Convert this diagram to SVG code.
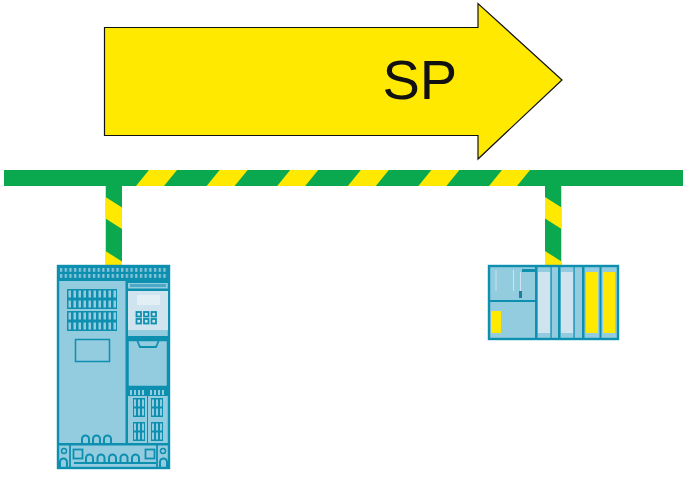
<svg xmlns="http://www.w3.org/2000/svg" xmlns:xlink="http://www.w3.org/1999/xlink" width="692" height="477" viewBox="0 0 692 477">
<style>
.g{fill:#0aa84f}.y{fill:#ffe900}
.b{fill:#93cbdf}.d{fill:#0f8fb0}.o{fill:none;stroke:#0f8fb0}
.p{fill:#cfe4ee}
</style>
<defs>
<filter id="soft" x="-2%" y="-2%" width="104%" height="104%"><feGaussianBlur stdDeviation="0.35"/></filter>
<clipPath id="stemClip"><rect x="0" y="186" width="16.5" height="79"/></clipPath>
<g id="stem" clip-path="url(#stemClip)">
<rect class="g" x="0" y="186" width="16.5" height="79"/>
<polygon class="y" points="0,197 16.5,207.5 16.5,229 0,218.5"/>
<polygon class="y" points="0,251 16.5,261.5 16.5,283 0,272.5"/>
</g>
<g id="vent"><rect class="d" width="50" height="20" x="0" y="0"/>
<g class="b"><rect x="1.5" y="1.5" width="2.5" height="7"/><rect x="1.5" y="11.5" width="2.5" height="7"/><rect x="6.5" y="1.5" width="2.5" height="7"/><rect x="6.5" y="11.5" width="2.5" height="7"/><rect x="11.5" y="1.5" width="2.5" height="7"/><rect x="11.5" y="11.5" width="2.5" height="7"/><rect x="16.5" y="1.5" width="2.5" height="7"/><rect x="16.5" y="11.5" width="2.5" height="7"/><rect x="21.5" y="1.5" width="2.5" height="7"/><rect x="21.5" y="11.5" width="2.5" height="7"/><rect x="26.5" y="1.5" width="2.5" height="7"/><rect x="26.5" y="11.5" width="2.5" height="7"/><rect x="31.5" y="1.5" width="2.5" height="7"/><rect x="31.5" y="11.5" width="2.5" height="7"/><rect x="36.5" y="1.5" width="2.5" height="7"/><rect x="36.5" y="11.5" width="2.5" height="7"/><rect x="41.5" y="1.5" width="2.5" height="7"/><rect x="41.5" y="11.5" width="2.5" height="7"/><rect x="46.5" y="1.5" width="2.5" height="7"/><rect x="46.5" y="11.5" width="2.5" height="7"/></g></g>
<g id="vent2"><rect class="d" width="12" height="19"/><g class="b"><rect x="1" y="1.5" width="2" height="7"/><rect x="5" y="1.5" width="2" height="7"/><rect x="9" y="1.5" width="2" height="7"/><rect x="1" y="10.5" width="2" height="7"/><rect x="5" y="10.5" width="2" height="7"/><rect x="9" y="10.5" width="2" height="7"/></g></g>
<path id="bump" d="M0,8 V4 A3.5,3.5 0 0 1 7,4 V8" fill="none" stroke="#0f8fb0" stroke-width="2"/>
<rect id="btn" class="o" width="4.5" height="4.5" stroke-width="1.8"/>
<pattern id="term" width="4.7" height="6" patternUnits="userSpaceOnUse" x="59" y="267"><rect width="4.7" height="6" fill="#0f8fb0"/><rect x="1" y="1" width="2.2" height="3.8" fill="#8cc6db"/></pattern>
</defs>

<g id="connectors">
<g id="bus">
<rect class="g" x="4" y="170" width="679" height="16"/>
<polygon class="y" points="136,186 164,186 177,170 149,170"/>
<polygon class="y" points="206.6,186 234.6,186 247.6,170 219.6,170"/>
<polygon class="y" points="277.2,186 305.2,186 318.2,170 290.2,170"/>
<polygon class="y" points="347.8,186 375.8,186 388.8,170 360.8,170"/>
<polygon class="y" points="418.4,186 446.4,186 459.4,170 431.4,170"/>
<polygon class="y" points="489,186 517,186 530,170 502,170"/>
</g>
<use xlink:href="#stem" href="#stem" x="105.5"/>
<use xlink:href="#stem" href="#stem" x="545"/>
</g>

<g id="arrow">
<polygon points="104.5,27.5 478,27.5 478,3.5 562,80 478,159 478,135.5 104.5,135.5" fill="#ffe900" stroke="#111" stroke-width="1.2"/>
<text x="382.500" y="99" font-family="'Liberation Sans',Arial,sans-serif" font-size="56" fill="#111">SP</text>
</g>

<g id="drive" filter="url(#soft)">
<rect class="b" x="57" y="265" width="113" height="204"/>
<rect x="58" y="266" width="111" height="202" class="o" stroke-width="2.400"/>
<rect class="d" x="58" y="266" width="111" height="15"/>
<rect x="59" y="267" width="108" height="12" fill="url(#term)"/>
<rect class="d" x="125.500" y="281" width="2.500" height="162"/>
<use xlink:href="#vent" href="#vent" x="67" y="289"/>
<use xlink:href="#vent" href="#vent" x="67" y="311"/>
<rect class="o" x="75.500" y="339.500" width="34" height="22" stroke-width="1.500"/>
<rect class="p" x="128" y="291" width="40" height="39"/>
<rect class="d" x="128" y="281" width="40" height="2"/>
<rect class="d" x="128" y="288.500" width="40" height="2.500"/>
<rect x="130" y="284" width="36" height="3" fill="#4aa9c6"/>
<rect fill="#e2eff5" x="137" y="295" width="23" height="10"/>
<use xlink:href="#btn" href="#btn" x="136.500" y="312"/><use xlink:href="#btn" href="#btn" x="144" y="312"/><use xlink:href="#btn" href="#btn" x="151.500" y="312"/>
<use xlink:href="#btn" href="#btn" x="136.500" y="319"/><use xlink:href="#btn" href="#btn" x="144" y="319"/><use xlink:href="#btn" href="#btn" x="151.500" y="319"/>
<rect class="d" x="128" y="336" width="40" height="3"/>
<path d="M137,340 L140,347 H156 L159,340" class="o" stroke-width="1.800"/>
<rect class="o" x="127.500" y="340" width="40.500" height="47" stroke-width="2.500"/>
<rect class="d" x="127" y="388" width="41" height="8"/>
<rect class="b" x="130" y="390" width="2" height="5"/><rect class="b" x="134" y="390" width="2" height="5"/><rect class="b" x="138" y="390" width="2" height="5"/><rect class="b" x="142" y="390" width="2" height="5"/><rect class="b" x="150" y="390" width="2" height="5"/><rect class="b" x="154" y="390" width="2" height="5"/><rect class="b" x="158" y="390" width="2" height="5"/><rect class="b" x="162" y="390" width="2" height="5"/>
<rect class="d" x="147" y="388" width="1" height="56"/>
<use xlink:href="#vent2" href="#vent2" x="133" y="398"/><use xlink:href="#vent2" href="#vent2" x="151" y="398"/>
<use xlink:href="#vent2" href="#vent2" x="133" y="422"/><use xlink:href="#vent2" href="#vent2" x="151" y="422"/>
<use xlink:href="#bump" href="#bump" x="82" y="435"/><use xlink:href="#bump" href="#bump" x="93" y="435"/><use xlink:href="#bump" href="#bump" x="104" y="435"/>
<rect class="d" x="58" y="443" width="111" height="2.500"/>
<path d="M70,444 V467 M157,444 V467" class="o" stroke-width="1.800"/>
<rect class="o" x="73.500" y="449.500" width="9" height="9" stroke-width="1.800"/>
<rect class="o" x="145.500" y="449.500" width="9" height="9" stroke-width="1.800"/>
<circle class="o" cx="64" cy="451" r="2.500" stroke-width="1.500"/>
<circle class="o" cx="163" cy="451" r="2.500" stroke-width="1.500"/>
<path d="M60,468 V462 A3.500,3.500 0 0 1 67,462 V468 M160,468 V462 A3.500,3.500 0 0 1 167,462 V468" class="o" stroke-width="2"/>
<use xlink:href="#bump" href="#bump" x="86" y="454"/><use xlink:href="#bump" href="#bump" x="97.500" y="454"/><use xlink:href="#bump" href="#bump" x="109" y="454"/><use xlink:href="#bump" href="#bump" x="120.500" y="454"/><use xlink:href="#bump" href="#bump" x="132" y="454"/>
<rect class="d" x="74" y="462" width="82" height="2"/>
</g>

<g id="plc" filter="url(#soft)">
<rect class="b" x="488" y="265" width="131" height="75"/>
<rect class="o" x="489" y="266" width="129" height="73" stroke-width="2.400"/>
<rect class="d" x="488" y="300" width="48" height="2"/>
<rect class="d" x="535" y="265" width="2.500" height="75"/>
<rect class="d" x="550.500" y="265" width="1.200" height="75"/>
<rect class="d" x="558" y="265" width="2.500" height="75"/>
<rect class="d" x="573.500" y="265" width="1.200" height="75"/>
<rect class="d" x="582" y="265" width="2.500" height="75"/>
<rect class="d" x="599.500" y="265" width="2" height="75"/>
<rect class="y" x="491" y="311" width="10" height="22"/>
<rect class="p" x="538" y="272" width="12" height="61"/>
<rect class="p" x="561" y="272" width="12" height="61"/>
<rect class="y" x="586" y="272" width="12" height="61"/>
<rect class="y" x="603" y="272" width="12" height="61"/>
<rect class="d" x="522" y="269" width="13" height="3"/>
<rect x="519" y="291" width="3" height="7" fill="#1a7fa0"/>
<g fill="#cfe4ee"><rect x="495.500" y="270" width="1" height="21"/><rect x="513" y="270" width="1" height="21"/><rect x="520" y="272" width="1" height="19"/></g>
</g>
</svg>
